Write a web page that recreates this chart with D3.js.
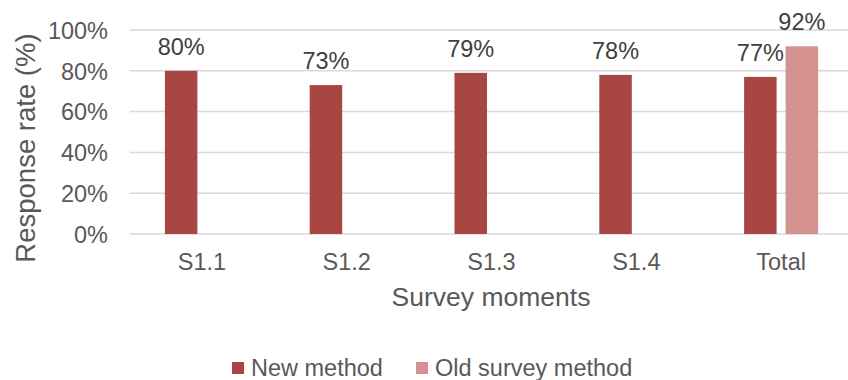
<!DOCTYPE html>
<html>
<head>
<meta charset="utf-8">
<script src="https://cdn.jsdelivr.net/npm/d3@7"></script>
<style>
  html, body { margin: 0; padding: 0; background: #fff; }
  svg { display: block; font-family: "Liberation Sans", Arial, sans-serif; }
</style>
</head>
<body>
<svg id="chart" width="848" height="380"></svg>
<script>
// Response rates per survey moment
const categories = ["S1.1", "S1.2", "S1.3", "S1.4", "Total"];
const seriesNames = ["New method", "Old survey method"];
const newMethod = [80, 73, 79, 78, 77];
const oldMethod = [null, null, null, null, 92];
const yTicks = [0, 20, 40, 60, 80, 100];

const colors = { "New method": "#A84644", "Old survey method": "#D39190" };

const svg = d3.select("#chart");
const plot = { left: 129.5, right: 853.5, top: 30, bottom: 234 };

const x = d3.scaleBand().domain(categories).range([plot.left, plot.right]).padding(0);
const xs = d3.scaleBand().domain(seriesNames).range([-37, 37]).paddingInner(0.217);
const y = d3.scaleLinear().domain([0, 100]).range([plot.bottom, plot.top]);

// Gridlines
svg.append("g")
  .selectAll("line")
  .data(yTicks)
  .join("line")
  .attr("x1", plot.left).attr("x2", plot.right)
  .attr("y1", d => y(d)).attr("y2", d => y(d))
  .attr("stroke", "#D9D9D9").attr("stroke-width", 1.5);

// Y axis labels
const yAxis = d3.axisLeft(y).tickValues(yTicks).tickFormat(d => d + "%").tickSize(0).tickPadding(0);
const gy = svg.append("g").attr("transform", `translate(108,0)`).call(yAxis);
gy.select(".domain").remove();
gy.selectAll("text").attr("fill", "#595959").style("font-size", "23.5px")
  .attr("font-family", "Liberation Sans, Arial, sans-serif").attr("dy", "0.35em");

// X axis labels
const xAxis = d3.axisBottom(x).tickSize(0).tickPadding(0);
const gx = svg.append("g").attr("transform", `translate(0,${plot.bottom})`).call(xAxis);
gx.select(".domain").remove();
gx.selectAll("text").attr("fill", "#595959").style("font-size", "23.5px")
  .attr("font-family", "Liberation Sans, Arial, sans-serif").attr("dy", null).attr("y", 36);

// Bars
const rows = categories.map((c, i) => ({
  cat: c,
  vals: [
    { s: "New method", v: newMethod[i] },
    { s: "Old survey method", v: oldMethod[i] }
  ].filter(d => d.v != null)
}));

const groups = svg.append("g").selectAll("g")
  .data(rows)
  .join("g")
  .attr("transform", d => `translate(${x(d.cat) + x.bandwidth() / 2},0)`);

groups.selectAll("rect")
  .data(d => d.vals)
  .join("rect")
  .attr("x", d => xs(d.s))
  .attr("width", xs.bandwidth())
  .attr("y", d => y(d.v))
  .attr("height", d => y(0) - y(d.v))
  .attr("fill", d => colors[d.s]);

groups.selectAll("text")
  .data(d => d.vals)
  .join("text")
  .attr("x", d => xs(d.s) + xs.bandwidth() / 2)
  .attr("y", d => y(d.v) - 16)
  .attr("text-anchor", "middle")
  .attr("fill", "#404040")
  .style("font-size", "23.5px")
  .text(d => d.v + "%");

// Axis titles
svg.append("text")
  .attr("x", 491).attr("y", 306)
  .attr("text-anchor", "middle")
  .attr("fill", "#595959")
  .style("font-size", "26.5px")
  .text("Survey moments");

svg.append("text")
  .attr("transform", "translate(35,148) rotate(-90)")
  .attr("text-anchor", "middle")
  .attr("fill", "#595959")
  .style("font-size", "27.5px")
  .text("Response rate (%)");

// Legend
const legendItems = [
  { name: "New method", sx: 232 },
  { name: "Old survey method", sx: 416 }
];
const lg = svg.append("g").selectAll("g").data(legendItems).join("g");
lg.append("rect")
  .attr("x", d => d.sx).attr("y", 362).attr("width", 12).attr("height", 12)
  .attr("fill", d => colors[d.name]);
lg.append("text")
  .attr("x", d => d.sx + 19).attr("y", 376)
  .attr("fill", "#595959")
  .style("font-size", "23.5px")
  .text(d => d.name);
</script>
</body>
</html>
